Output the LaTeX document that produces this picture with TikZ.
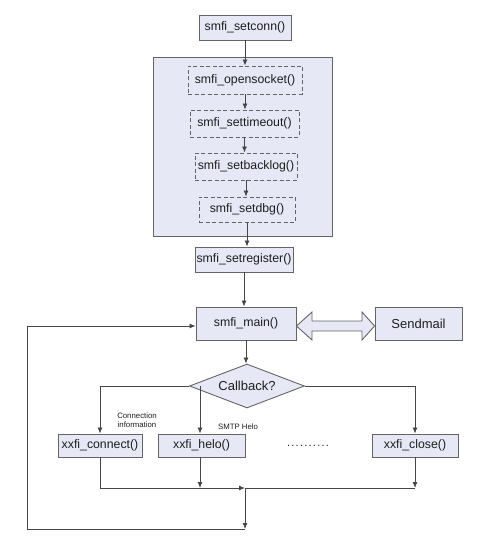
\documentclass[tikz,border=0pt]{standalone}
\usepackage{fontspec}
\setmainfont{Liberation Sans}
\usetikzlibrary{arrows.meta,shapes.geometric}
\definecolor{boxfill}{RGB}{230,233,245}
\definecolor{edge}{RGB}{100,100,100}
\definecolor{lin}{RGB}{70,70,70}
\definecolor{txt}{RGB}{30,30,30}
\tikzset{
  fbox/.style={draw=edge, fill=boxfill, line width=0.9pt, inner sep=0pt, text=txt,
    font=\fontsize{12.3}{14}\selectfont, anchor=center},
  dbox/.style={fbox, dashed, dash pattern=on 4pt off 2.5pt},
  conn/.style={draw=lin, line width=0.8pt},
  arr/.style={conn, -{Latex[length=6pt,width=5pt]}},
  small/.style={font=\fontsize{7.8}{9}\selectfont, text=txt, align=center, inner sep=0pt}
}
\newcommand{\dd}{.\kern1.25pt}
\begin{document}
\begin{tikzpicture}[x=1pt,y=-1pt]
\useasboundingbox (0,0) rectangle (481,545);
% container
\node[fbox, minimum width=179pt, minimum height=179pt] (cont) at (242.5,146.5) {};
\node[fbox, minimum width=92pt, minimum height=25pt] (setconn) at (245,27.5) {smfi\_setconn()};
\node[dbox, minimum width=114pt, minimum height=28pt] (open) at (245,80) {smfi\_opensocket()};
\node[dbox, minimum width=109pt, minimum height=27pt] (tmo) at (244.5,123.5) {smfi\_settimeout()};
\node[dbox, minimum width=102pt, minimum height=27pt] (blog) at (246,166.5) {smfi\_setbacklog()};
\node[dbox, minimum width=96pt, minimum height=25pt] (dbg) at (247,209.5) {smfi\_setdbg()};
\node[fbox, minimum width=98pt, minimum height=25pt] (reg) at (244,259.5) {smfi\_setregister()};
\node[fbox, minimum width=100pt, minimum height=33pt] (main) at (246,323.5) {smfi\_main()};
\node[fbox, minimum width=87pt, minimum height=33pt, font=\fontsize{13}{15}\selectfont] (send) at (418.5,323.5) {Sendmail};
\node[fbox, diamond, aspect=2.6, minimum width=115pt, minimum height=44pt, font=\fontsize{13}{15}\selectfont] (cb) at (247,386) {Callback?};
\node[fbox, minimum width=84pt, minimum height=23pt] (xconn) at (100,445.5) {xxfi\_connect()};
\node[fbox, minimum width=87pt, minimum height=23pt] (xhelo) at (201.5,445.5) {xxfi\_helo()};
\node[fbox, minimum width=86pt, minimum height=23pt] (xclose) at (415,445.5) {xxfi\_close()};
\node[text=txt, font=\fontsize{11}{12}\selectfont, inner sep=0pt] (dots) at (308,446) {\dd\dd\dd\dd\dd\dd\dd\dd\dd.};
\node[small] (lconn) at (137,420.5) {Connection\\information};
\node[small] (lhelo) at (238,426.5) {SMTP Helo};
% coordinates
\coordinate (j1) at (100,386);
\coordinate (j2) at (200,386);
\coordinate (j3) at (415,386);
\coordinate (m1) at (245,488);
\coordinate (b1) at (100,488);
\coordinate (b2) at (200,488);
\coordinate (b3) at (415,488);
\coordinate (m2) at (245,529);
\coordinate (l1) at (27,529);
\coordinate (l2) at (27,326);
% vertical chain
\draw[arr] (setconn.south -| open.north) -- (open.north);
\draw[arr] (open.south) -- (open.south |- tmo.north);
\draw[arr] (tmo.south) -- (tmo.south |- blog.north);
\draw[arr] (blog.south) -- (blog.south |- dbg.north);
\draw[arr] (dbg.south) -- (dbg.south |- reg.north);
\draw[arr] (reg.south) -- (reg.south |- main.north);
\draw[arr] (main.south) -- (main.south |- cb.north);
% branches
\draw[arr] (cb.west) -- (j1) -- (xconn.north);
\draw[arr] (j2) -- (j2 |- xhelo.north);
\draw[arr] (cb.east) -- (j3) -- (xclose.north);
% merge
\draw[arr] (xconn.south) -- (b1) -- (m1);
\draw[arr] (xhelo.south -| b2) -- (b2);
\draw[arr] (xclose.south) -- (b3);
\draw[conn] (b3) -- (m1);
\draw[arr] (m1) -- (m2);
\draw[arr] (m2) -- (l1) -- (l2) -- (l2 -| main.west);
% double arrow
\draw[draw=edge, fill=boxfill, line width=0.9pt]
  (main.east |- 0,326) -- (312,312) -- (312,321) -- (362,321) -- (362,312)
  -- (send.west |- 0,326) -- (362,340) -- (362,331) -- (312,331) -- (312,340) -- cycle;
\end{tikzpicture}
\end{document}
